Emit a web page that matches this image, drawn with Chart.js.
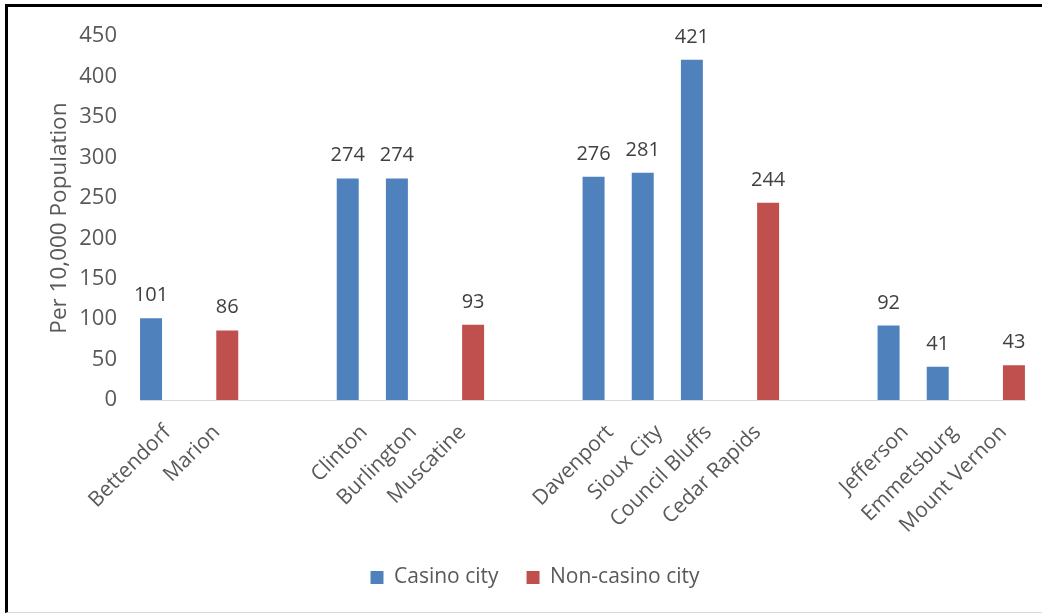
<!DOCTYPE html>
<html>
<head>
<meta charset="utf-8">
<script src="https://cdn.jsdelivr.net/npm/chart.js@4.4.1/dist/chart.umd.min.js"></script>
<style>
    body { margin: 0; background: #fff; }
    #wrap { position: relative; width: 1042px; height: 614px; overflow: hidden; }
    #frame {
        position: absolute; left: 5px; top: 4px; width: 1100px; height: 609px;
        box-sizing: border-box; pointer-events: none;
        border-left: 3px solid #000; border-top: 3px solid #000; border-bottom: 1px solid #d9d9d9;
    }
</style>
</head>
<body>
<div id="wrap">
    <canvas id="rateChart" width="1042" height="614"></canvas>
    <div id="frame"></div>
</div>
<script>
// Cities, blank slots separate the groups
const cities = ['Bettendorf', 'Marion', '', '', 'Clinton', 'Burlington', 'Muscatine', '', '',
    'Davenport', 'Sioux City', 'Council Bluffs', 'Cedar Rapids', '', '', 'Jefferson', 'Emmetsburg', 'Mount Vernon'];
const casinoCity = [101, null, null, null, 274, 274, null, null, null, 276, 281, 421, null, null, null, 92, 41, null];
const nonCasinoCity = [null, 86, null, null, null, null, 93, null, null, null, null, null, 244, null, null, null, null, 43];
const yTicks = [0, 50, 100, 150, 200, 250, 300, 350, 400, 450];

const FONT = "'Open Sans', sans-serif";

// Draw the value above each bar
const valueLabels = {
    id: 'valueLabels',
    afterDatasetsDraw(chart) {
        const ctx = chart.ctx;
        ctx.save();
        ctx.font = `20px ${FONT}`;
        ctx.fillStyle = '#404040';
        ctx.textAlign = 'center';
        ctx.textBaseline = 'alphabetic';
        chart.data.datasets.forEach((ds, i) => {
            chart.getDatasetMeta(i).data.forEach((bar, j) => {
                if (ds.data[j] == null) return;
                ctx.fillText(String(ds.data[j]), bar.x, bar.y - 17);
            });
        });
        ctx.restore();
    }
};

new Chart(document.getElementById('rateChart'), {
    type: 'bar',
    data: {
        labels: cities,
        datasets: [
            { label: 'Casino city', data: casinoCity, backgroundColor: '#4f81bd',
              categoryPercentage: 1.1, barPercentage: 0.813 },
            { label: 'Non-casino city', data: nonCasinoCity, backgroundColor: '#c0504d',
              categoryPercentage: 1.1, barPercentage: 0.813 }
        ]
    },
    options: {
        responsive: false,
        animation: false,
        layout: { padding: { top: 31, left: 45, right: 17, bottom: 16 } },
        plugins: {
            tooltip: { enabled: false },
            legend: {
                position: 'bottom',
                labels: {
                    boxWidth: 13, boxHeight: 13, padding: 28,
                    color: '#595959', font: { family: FONT, size: 21 }
                }
            }
        },
        scales: {
            x: {
                grid: { display: false },
                border: { color: '#d9d9d9', width: 1 },
                ticks: {
                    autoSkip: false, maxRotation: 45, minRotation: 45, padding: 12, labelOffset: 3,
                    color: '#595959', font: { family: FONT, size: 21 }
                },
                afterFit(scale) { scale.height = 139; }
            },
            y: {
                min: 0, max: 450,
                grid: { display: false, drawTicks: false },
                border: { display: false },
                afterBuildTicks(scale) { scale.ticks = yTicks.map(v => ({ value: v })); },
                ticks: { padding: 23, color: '#595959', font: { family: FONT, size: 22 } },
                title: {
                    display: true, text: 'Per 10,000 Population', color: '#595959',
                    font: { family: FONT, size: 22.5 }, padding: { top: 1, bottom: 0 }
                },
                afterFit(scale) { scale.width = 95; }
            }
        }
    },
    plugins: [valueLabels]
});
</script>
</body>
</html>
